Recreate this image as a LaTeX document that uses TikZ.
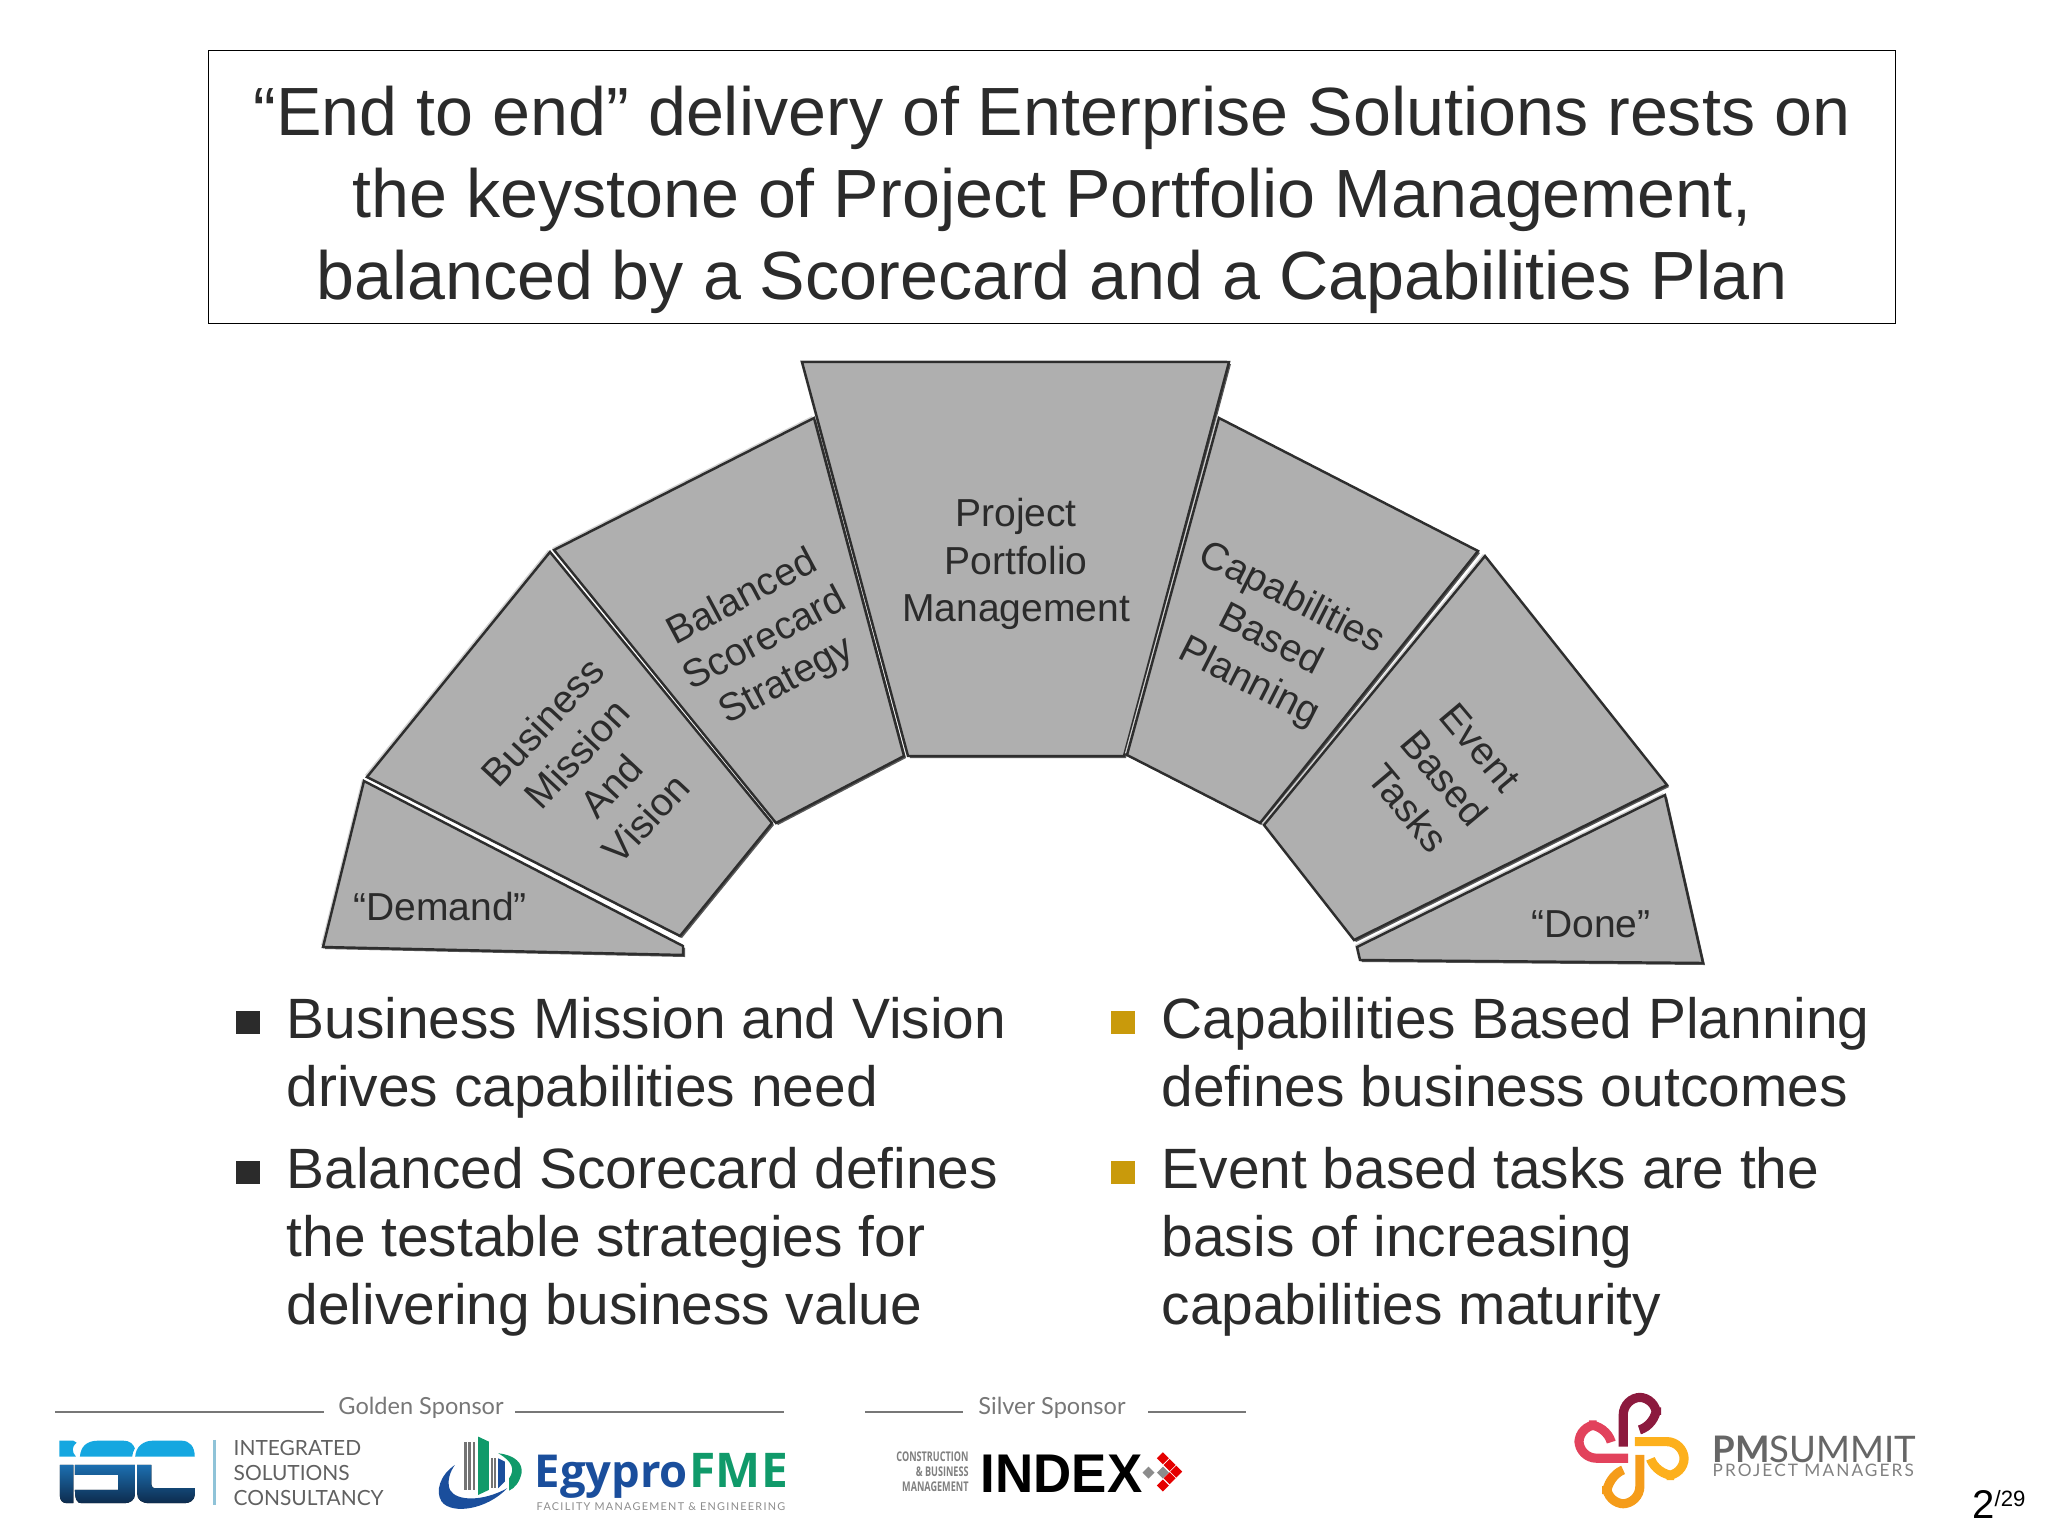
\documentclass[tikz,border=0pt]{standalone}
\usepackage{fontspec}
\setmainfont{Liberation Sans}
\newfontfamily\latofont{Lato}
\newfontfamily\logofont{Open Sans}
\definecolor{inktext}{HTML}{2B2B2B}
\definecolor{slabgray}{HTML}{AFAFAF}
\definecolor{slabedge}{HTML}{2E2E2E}
\definecolor{slablight}{HTML}{D2D2D2}
\definecolor{slabdark}{HTML}{5A5A5A}
\definecolor{goldbullet}{HTML}{C99A0B}
\definecolor{sponsorgray}{HTML}{777777}
\definecolor{egyblue}{HTML}{1A4E9C}
\definecolor{egygreen}{HTML}{109A6A}
\definecolor{isccyan}{HTML}{15A7E0}
\definecolor{iscblue}{HTML}{1C6FB0}
\definecolor{iscnavy}{HTML}{0D2B4D}
\definecolor{iscrule}{HTML}{8FC3D8}
\definecolor{knotmaroon}{HTML}{8C1A3E}
\definecolor{knotred}{HTML}{E2425C}
\definecolor{knotamber}{HTML}{FDB01C}
\definecolor{knotorange}{HTML}{F59C1A}
\tikzset{
	slab/.style={fill=slabgray,draw=slabedge,line width=0.7pt,line join=miter},
	slabtext/.style={text=inktext,align=center,font=\fontsize{11.1pt}{13.4pt}\selectfont},
	titletext/.style={text=inktext,align=center,font=\fontsize{19.4pt}{23.33pt}\selectfont},
	pointtext/.style={text=inktext,align=left,anchor=west,inner sep=0pt,font=\fontsize{16.17pt}{19.35pt}\selectfont},
	sponsortext/.style={text=sponsorgray,font=\latofont\fontsize{6.7pt}{8pt}\selectfont},
	sponsorline/.style={sponsorgray,line width=0.4pt},
	isctext/.style={text=black!62,anchor=west,inner sep=0pt,font=\latofont\fontsize{5.95pt}{7.1pt}\selectfont},
	indextext/.style={inner sep=0pt,anchor=east,text=black!50,xscale=0.68,transform shape,font=\logofont\bfseries\fontsize{3.8pt}{4pt}\selectfont},
	knot/.style={line width=2.6pt,rounded corners=5pt}
}
\begin{document}
\begin{tikzpicture}[x=0.01cm,y=-0.01cm]
				\useasboundingbox (0,0) rectangle (2048,1536);
				%Nodes
				\node[draw=black,line width=0.5pt,minimum width=16.86cm,minimum height=2.73cm] (titlebox) at (1052,187) {};
				\node[titletext] (title) at (1052,200) {``End to end'' delivery of Enterprise Solutions rests on\\the keystone of Project Portfolio Management,\\balanced by a Scorecard and a Capabilities Plan};

				\coordinate (p1) at (802,362);
				\coordinate (p2) at (1229,362);
				\coordinate (p3) at (1124,756);
				\coordinate (p4) at (908,756);
				\coordinate (s1) at (814,418);
				\coordinate (s2) at (904,756);
				\coordinate (s3) at (776,823);
				\coordinate (s4) at (554,550);
				\coordinate (b1) at (550,552);
				\coordinate (b2) at (772,823);
				\coordinate (b3) at (680,936);
				\coordinate (b4) at (367,777);
				\coordinate (d1) at (364,781);
				\coordinate (d2) at (683,946);
				\coordinate (d3) at (683,955);
				\coordinate (d4) at (323,947);
				\coordinate (c1) at (1219,418);
				\coordinate (c2) at (1478,551);
				\coordinate (c3) at (1260,823);
				\coordinate (c4) at (1127,755);
				\coordinate (e1) at (1485,556);
				\coordinate (e2) at (1667,785);
				\coordinate (e3) at (1354,940);
				\coordinate (e4) at (1264,825);
				\coordinate (f1) at (1665,795);
				\coordinate (f2) at (1703,963);
				\coordinate (f3) at (1360,960);
				\coordinate (f4) at (1357,947);

				%Slabs
				\foreach \n in {p,s,b,d,c,e,f}{
					\fill[slablight] ([shift={(-2,-2)}]\n1) -- ([shift={(-2,-2)}]\n2) -- ([shift={(-2,-2)}]\n3) -- ([shift={(-2,-2)}]\n4) -- cycle;
					\fill[slabdark] ([shift={(2,2)}]\n1) -- ([shift={(2,2)}]\n2) -- ([shift={(2,2)}]\n3) -- ([shift={(2,2)}]\n4) -- cycle;
					\draw[slab] (\n1) -- (\n2) -- (\n3) -- (\n4) -- cycle;
				}

				\node[slabtext] (project) at (1016,564) {Project\\Portfolio\\Management};
				\node[slabtext,rotate=28] (balanced) at (765,640) {Balanced\\Scorecard\\Strategy};
				\node[slabtext,rotate=47] (business) at (594,770) {Business\\Mission\\And\\Vision};
				\node[slabtext] (demand) at (440,907) {``Demand''};
				\node[slabtext,rotate=-27] (capabilities) at (1270,641) {Capabilities\\Based\\Planning};
				\node[slabtext,rotate=-50] (event) at (1444,778) {Event\\Based\\Tasks};
				\node[slabtext] (done) at (1591,924) {``Done''};

				%Points
				\fill[inktext] (236,1011) rectangle (260,1034);
				\fill[inktext] (236,1161) rectangle (260,1184);
				\fill[goldbullet] (1111,1011) rectangle (1135,1034);
				\fill[goldbullet] (1111,1161) rectangle (1135,1184);
				\node[pointtext] (leftone) at (286,1058) {Business Mission and Vision\\drives capabilities need};
				\node[pointtext] (lefttwo) at (286,1242) {Balanced Scorecard defines\\the testable strategies for\\delivering business value};
				\node[pointtext] (rightone) at (1161,1052) {Capabilities Based Planning\\defines business outcomes};
				\node[pointtext] (righttwo) at (1161,1242) {Event based tasks are the\\basis of increasing\\capabilities maturity};

				%Sponsors
				\node[sponsortext] (golden) at (421,1408) {Golden Sponsor};
				\node[sponsortext] (silver) at (1052,1408) {Silver Sponsor};
				\draw[sponsorline] (55,1412) -- (324,1412);
				\draw[sponsorline] (515,1412) -- (784,1412);
				\draw[sponsorline] (865,1412) -- (963,1412);
				\draw[sponsorline] (1148,1412) -- (1246,1412);

				%ISC
				\begin{scope}[shift={(40,1420)},x=0.00333cm,y=-0.00333cm]
					\fill[isccyan] (58,62) -- (100,62) -- (110,68) .. controls (95,80) and (95,95) .. (108,110) -- (58,110) -- cycle;
					\fill[isccyan] (120,110) .. controls (122,80) and (140,62) .. (175,62) -- (250,62) .. controls (270,62) and (280,72) .. (285,85) .. controls (280,95) and (278,100) .. (277,110) -- cycle;
					\fill[isccyan] (286,110) .. controls (288,80) and (310,62) .. (340,62) -- (425,62) .. controls (450,62) and (465,80) .. (465,110) -- cycle;
					\fill[top color=iscblue,bottom color=iscnavy] (60,135) -- (100,135) -- (100,250) -- (80,250) .. controls (68,250) and (60,240) .. (60,230) -- cycle
						(105,135) -- (285,135) -- (285,225) .. controls (285,240) and (270,250) .. (255,250) -- (125,250) .. controls (112,250) and (105,240) .. (105,210) -- (235,210) -- (235,165) -- (105,165) -- cycle
						(292,135) -- (335,135) -- (335,195) .. controls (335,202) and (340,205) .. (345,205) -- (465,205) -- (465,225) .. controls (465,240) and (450,250) .. (435,250) -- (330,250) .. controls (305,250) and (292,240) .. (292,220) -- cycle;
					\draw[iscrule,line width=0.7pt] (525,60) -- (525,255);
				\end{scope}
				\node[isctext] (integrated) at (233,1448) {INTEGRATED};
				\node[isctext] (solutions) at (233,1473) {SOLUTIONS};
				\node[isctext] (consultancy) at (233,1498) {CONSULTANCY};

				%Egypro
				\begin{scope}[shift={(420,1420)},x=0.00333cm,y=-0.00333cm]
					\fill[egyblue] (105,135) .. controls (60,165) and (45,215) .. (65,245) .. controls (95,285) and (200,270) .. (262,205) .. controls (190,245) and (110,245) .. (90,210) .. controls (80,185) and (90,155) .. (105,135) -- cycle;
					\fill[egygreen] (235,100) .. controls (285,105) and (310,130) .. (305,160) .. controls (300,185) and (285,205) .. (268,212) -- (268,175) .. controls (285,150) and (280,125) .. (235,100) -- cycle;
					\foreach \sx in {132,145,158}{
						\fill[black!55] (\sx,65) rectangle (\sx+8,210);
					}
					\fill[egygreen] (175,50) -- (207,65) -- (207,210) -- (175,225) -- cycle;
					\foreach \sx in {212,222}{
						\fill[black!55] (\sx,115) rectangle (\sx+6,205);
					}
					\fill[egyblue] (235,115) -- (255,125) -- (255,185) -- (235,205) -- cycle;
				\end{scope}
				\node[inner sep=0pt,anchor=base west,text=egyblue,font=\logofont\bfseries\fontsize{12.9pt}{15pt}\selectfont] (egypro) at (534,1487) {Egypro};
				\node[inner sep=0pt,anchor=base west,text=egygreen,font=\logofont\bfseries\fontsize{13.6pt}{15pt}\selectfont] (fme) at (689,1487) {FME};
				\node[inner sep=0pt,anchor=base west,text=black!45,font=\latofont\addfontfeature{LetterSpace=12}\fontsize{3.08pt}{4pt}\selectfont] (facility) at (536,1510) {FACILITY MANAGEMENT \& ENGINEERING};

				%Index
				\node[indextext] (construction) at (969,1457) {CONSTRUCTION};
				\node[indextext] (business) at (969,1472) {\& BUSINESS};
				\node[indextext] (management) at (969,1487) {MANAGEMENT};
				\node[inner sep=0pt,anchor=base west,text=black,xscale=0.97,transform shape,font=\bfseries\fontsize{15.5pt}{17pt}\selectfont] (index) at (980,1492) {INDEX};
				\begin{scope}[shift={(880,1430)},x=0.00333cm,y=-0.00333cm]
					\foreach \dx/\dy in {807/128,850/128}{
						\fill[black!45] (\dx,\dy) ++(0,-18) -- ++(18,18) -- ++(-18,18) -- ++(-18,-18) -- cycle;
					}
					\foreach \dx/\dy in {850/85,870/105,890/125,870/145,850/167}{
						\fill[red!90!black] (\dx,\dy) ++(0,-18) -- ++(18,18) -- ++(-18,18) -- ++(-18,-18) -- cycle;
					}
				\end{scope}

				%Summit
				\begin{scope}[shift={(1560,1380)},x=0.00333cm,y=-0.00333cm]
					\draw[knot,color=knotred] (205,235) -- (57,235) -- (57,135) -- (140,135) -- (152,180);
					\draw[knot,color=knotamber] (225,185) -- (373,185) -- (373,287) -- (290,287) -- (275,245);
					\draw[knot,color=knotorange] (240,225) -- (240,372) -- (140,372) -- (140,290) -- (185,272);
					\draw[knot,color=knotmaroon] (190,200) -- (190,52) -- (290,52) -- (290,135) -- (245,148);
				\end{scope}
				\node[inner sep=0pt,anchor=base west,text=black!60,font=\latofont\fontsize{10.4pt}{12pt}\selectfont] (pmsummit) at (1712,1462) {\textbf{PM}SUMMIT};
				\node[inner sep=0pt,anchor=base west,text=black!50,font=\latofont\addfontfeature{LetterSpace=12}\fontsize{4.9pt}{5pt}\selectfont] (managers) at (1712,1476) {PROJECT MANAGERS};

				%Page
				\node[inner sep=0pt,anchor=base west,text=black,font=\fontsize{11.4pt}{12pt}\selectfont] (page) at (1972,1518) {2};
				\node[inner sep=0pt,anchor=base west,text=black,font=\fontsize{6.3pt}{7pt}\selectfont] (pages) at (1994,1506) {/29};
\end{tikzpicture}
\end{document}
